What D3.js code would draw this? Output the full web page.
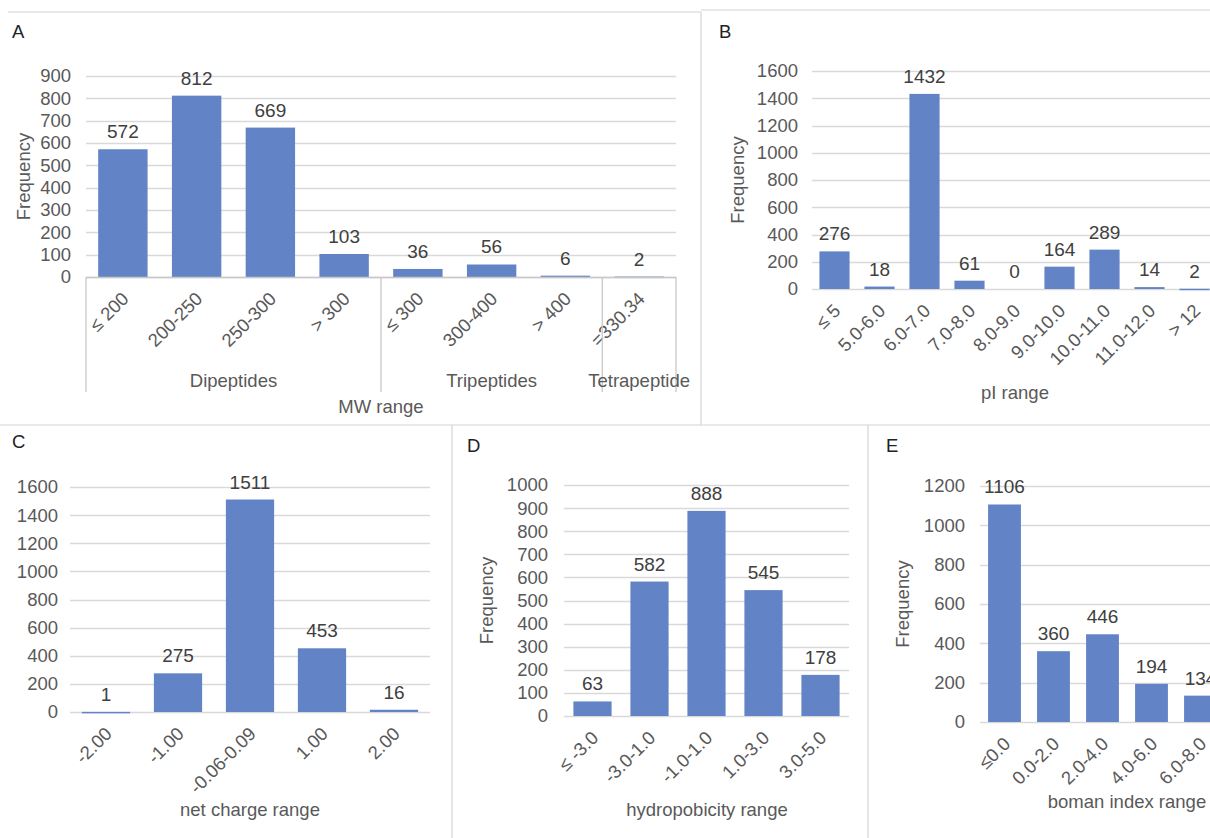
<!DOCTYPE html>
<html>
<head>
  <meta charset="utf-8">
  <style>
    body { margin: 0; background: #fff; }
    svg { display: block; font-family: "Liberation Sans", Arial, sans-serif; }
  </style>
  <title>Peptide property distributions</title>
</head>
<body>
  <script src="https://cdn.jsdelivr.net/npm/d3@7"></script>
  <script>
    // ---- data ----
    var mwCats = ["≤ 200", "200-250", "250-300", "> 300", "≤ 300", "300-400", "> 400", "=330.34"];
    var mwValues = [572, 812, 669, 103, 36, 56, 6, 2];
    var mwGroups = ["Dipeptides", "Tripeptides", "Tetrapeptide"];
    var mwGroupSizes = [4, 3, 1];
    var mwTicks = [0, 100, 200, 300, 400, 500, 600, 700, 800, 900];

    var piCats = ["≤ 5", "5.0-6.0", "6.0-7.0", "7.0-8.0", "8.0-9.0", "9.0-10.0", "10.0-11.0", "11.0-12.0", "> 12"];
    var piValues = [276, 18, 1432, 61, 0, 164, 289, 14, 2];
    var piTicks = [0, 200, 400, 600, 800, 1000, 1200, 1400, 1600];

    var chargeCats = ["-2.00", "-1.00", "-0.06-0.09", "1.00", "2.00"];
    var chargeValues = [1, 275, 1511, 453, 16];
    var chargeTicks = [0, 200, 400, 600, 800, 1000, 1200, 1400, 1600];

    var hydroCats = ["≤ -3.0", "-3.0-1.0", "-1.0-1.0", "1.0-3.0", "3.0-5.0"];
    var hydroValues = [63, 582, 888, 545, 178];
    var hydroTicks = [0, 100, 200, 300, 400, 500, 600, 700, 800, 900, 1000];

    var bomanCats = ["≤0.0", "0.0-2.0", "2.0-4.0", "4.0-6.0", "6.0-8.0"];
    var bomanValues = [1106, 360, 446, 194, 134];
    var bomanTicks = [0, 200, 400, 600, 800, 1000, 1200];

    var barColor = "#6284c7",
      gridColor = "#d9d9d9",
      frameColor = "#d4d4d4",
      textColor = "#404040",
      tickColor = "#595959",
      fontSize = "18.5px";

    var svg = d3.select("body").append("svg")
      .attr("width", 1210)
      .attr("height", 838);

    // panel frames
    var frames = [
      [8, 12, 701, 12], [701, 12, 701, 425], [701, 10, 1210, 10],
      [0, 425, 1210, 425], [452, 425, 452, 838], [868, 425, 868, 838]
    ];
    svg.selectAll("line.frame").data(frames).enter().append("line")
      .attr("class", "frame")
      .attr("x1", d => d[0]).attr("y1", d => d[1])
      .attr("x2", d => d[2]).attr("y2", d => d[3])
      .attr("stroke", frameColor).attr("stroke-width", 1.2);

    function drawPanel(p) {
      var g = svg.append("g");

      var x = d3.scaleBand()
        .domain(p.cats)
        .range([p.left, p.left + p.step * p.cats.length])
        .paddingInner(0.33)
        .paddingOuter(0.165);

      var y = d3.scaleLinear()
        .domain([0, d3.max(p.ticks)])
        .range([p.bottom, p.top]);

      // gridlines
      g.selectAll("line.grid").data(p.ticks).enter().append("line")
        .attr("x1", p.left).attr("x2", p.gridRight)
        .attr("y1", d => Math.round(y(d)) + 0.5).attr("y2", d => Math.round(y(d)) + 0.5)
        .attr("stroke", gridColor).attr("stroke-width", 1.3);

      // y axis labels
      var yAxis = d3.axisLeft(y).tickValues(p.ticks).tickFormat(d3.format("d"))
        .tickSize(0).tickPadding(0);
      var ya = g.append("g")
        .attr("transform", "translate(" + p.yLabelX + ",0)")
        .call(yAxis);
      ya.select(".domain").remove();
      ya.selectAll("text")
        .attr("fill", tickColor)
        .style("font-size", fontSize)
        .style("font-family", "Liberation Sans, Arial, sans-serif");

      // bars
      g.selectAll("rect.bar").data(p.values).enter().append("rect")
        .attr("x", (d, i) => x(p.cats[i]))
        .attr("width", x.bandwidth())
        .attr("y", d => y(d))
        .attr("height", d => Math.max(y(0) - y(d), d > 0 ? 1.5 : 0))
        .attr("fill", barColor);

      // value labels
      g.selectAll("text.val").data(p.values).enter().append("text")
        .attr("x", (d, i) => x(p.cats[i]) + x.bandwidth() / 2)
        .attr("y", d => y(d) - 11)
        .attr("text-anchor", "middle")
        .attr("fill", textColor)
        .style("font-size", "19px")
        .text(d => d);

      // rotated category labels
      g.selectAll("text.cat").data(p.cats).enter().append("text")
        .attr("transform", d => "translate(" + (x(d) + x.bandwidth() / 2 + 7) + "," + (p.bottom + 23) + ") rotate(-45)")
        .attr("text-anchor", "end")
        .attr("fill", tickColor)
        .style("font-size", fontSize)
        .text(d => d);

      // axis title
      g.append("text")
        .attr("x", p.titleX)
        .attr("y", p.titleY)
        .attr("text-anchor", "middle")
        .attr("fill", tickColor)
        .style("font-size", fontSize)
        .text(p.title);

      if (p.yTitle) {
        g.append("text")
          .attr("transform", "translate(" + p.yTitleX + "," + ((p.top + p.bottom) / 2) + ") rotate(-90)")
          .attr("text-anchor", "middle")
          .attr("fill", tickColor)
          .style("font-size", fontSize)
          .text(p.yTitle);
      }

      // panel letter
      g.append("text")
        .attr("x", p.letterX).attr("y", p.letterY)
        .attr("fill", "#222")
        .style("font-size", fontSize)
        .text(p.letter);

      return {g: g, x: x, y: y};
    }

    // A: molecular weight, with grouped category axis
    var A = drawPanel({
      letter: "A", letterX: 12, letterY: 38,
      cats: mwCats, values: mwValues, ticks: mwTicks,
      left: 86, step: 73.75, gridRight: 676, top: 76, bottom: 277, yLabelX: 71,
      title: "MW range", titleX: 381, titleY: 413,
      yTitle: "Frequency", yTitleX: 30
    });
    A.g.append("line")
      .attr("x1", 86).attr("x2", 676).attr("y1", 277.5).attr("y2", 277.5)
      .attr("stroke", "#c8c8c8").attr("stroke-width", 1.3);
    var start = 0, bounds = [0];
    mwGroupSizes.forEach(n => { start += n; bounds.push(start); });
    var edgeX = i => i < mwCats.length ? A.x(mwCats[i]) - A.x.step() * A.x.paddingInner() / 2 : A.x.range()[1];
    A.g.selectAll("line.sep").data(bounds).enter().append("line")
      .attr("x1", i => edgeX(i)).attr("x2", i => edgeX(i))
      .attr("y1", 277).attr("y2", 392)
      .attr("stroke", "#c8c8c8").attr("stroke-width", 1.3);
    A.g.selectAll("text.grp").data(mwGroups).enter().append("text")
      .attr("x", (d, i) => (edgeX(bounds[i]) + edgeX(bounds[i + 1])) / 2)
      .attr("y", 387)
      .attr("text-anchor", "middle")
      .attr("fill", tickColor)
      .style("font-size", fontSize)
      .text(d => d);

    // B: isoelectric point
    drawPanel({
      letter: "B", letterX: 719, letterY: 38,
      cats: piCats, values: piValues, ticks: piTicks,
      left: 812, step: 45, gridRight: 1217, top: 71, bottom: 289, yLabelX: 798,
      title: "pI range", titleX: 1015, titleY: 399,
      yTitle: "Frequency", yTitleX: 744
    });

    // C: net charge
    drawPanel({
      letter: "C", letterX: 12, letterY: 448,
      cats: chargeCats, values: chargeValues, ticks: chargeTicks,
      left: 70, step: 72, gridRight: 430, top: 487, bottom: 712, yLabelX: 58,
      title: "net charge range", titleX: 250, titleY: 816
    });

    // D: hydrophobicity
    drawPanel({
      letter: "D", letterX: 467, letterY: 452,
      cats: hydroCats, values: hydroValues, ticks: hydroTicks,
      left: 564, step: 57, gridRight: 849, top: 485, bottom: 716, yLabelX: 548,
      title: "hydropobicity range", titleX: 707, titleY: 816,
      yTitle: "Frequency", yTitleX: 493
    });

    // E: Boman index (panel continues past the right edge of the figure)
    drawPanel({
      letter: "E", letterX: 886, letterY: 452,
      cats: bomanCats, values: bomanValues, ticks: bomanTicks,
      left: 980, step: 49, gridRight: 1274, top: 486, bottom: 722, yLabelX: 965,
      title: "boman index range", titleX: 1127, titleY: 808,
      yTitle: "Frequency", yTitleX: 909
    });
  </script>
</body>
</html>
